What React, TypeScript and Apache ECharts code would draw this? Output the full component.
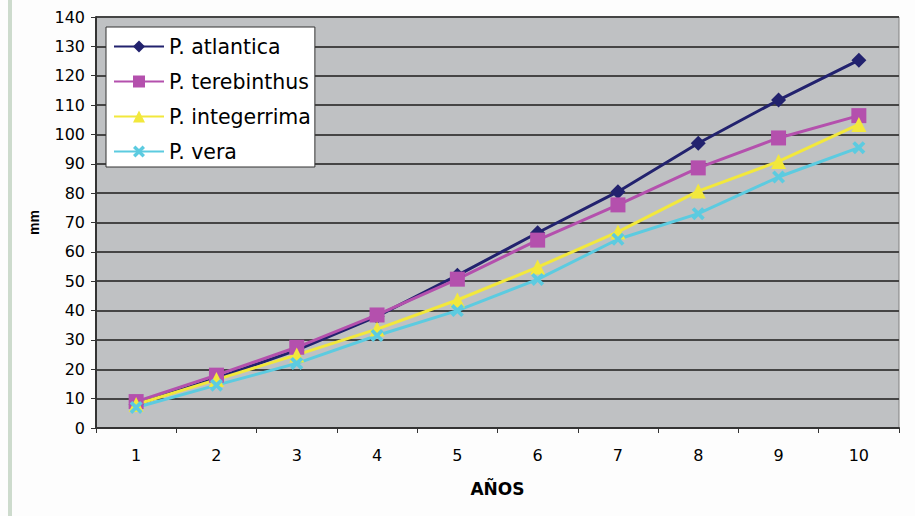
import React, { useEffect, useRef } from "react";
import * as echarts from "echarts";

const categories = ["1", "2", "3", "4", "5", "6", "7", "8", "9", "10"];
const atlantica = [8, 17, 26.5, 38, 52, 66.5, 80.5, 97, 111.7, 125.3];
const terebinthus = [9, 18, 27.5, 38.5, 50.7, 64, 76, 88.6, 98.8, 106.4];
const integerrima = [8, 16.5, 24.9, 33.7, 43.6, 54.8, 66.8, 80.7, 90.8, 103.4];
const vera = [7, 14.6, 22, 31.5, 40, 50.6, 64.3, 73, 85.5, 95.5];

const xPath = "path://M0,2L2,0L5,3L8,0L10,2L7,5L10,8L8,10L5,7L2,10L0,8L3,5Z";
const FONT = "DejaVu Sans, Liberation Sans, Arial, sans-serif";

export default function App() {
  const ref = useRef<HTMLDivElement>(null);
  useEffect(() => {
    const chart = echarts.init(ref.current!, null, { renderer: "svg" });
    const mk = (name: string, data: number[], color: string, symbol: string, size: number) => ({
      name,
      type: "line",
      data,
      symbol,
      symbolSize: size,
      lineStyle: { color, width: 3 },
      itemStyle: { color },
    });
    chart.setOption({
      animation: false,
      backgroundColor: "#fdfdfd",
      textStyle: { fontFamily: FONT },
      graphic: [
        { type: "rect", shape: { x: 8, y: 0, width: 4, height: 516 }, style: { fill: "#cddbcd" } },
      ],
      grid: {
        left: 96,
        top: 17,
        right: 16,
        bottom: 88,
        show: true,
        backgroundColor: "#bfc1c3",
        borderColor: "#808080",
        borderWidth: 1,
      },
      legend: {
        orient: "vertical",
        left: 106,
        top: 27,
        backgroundColor: "#ffffff",
        borderColor: "#333333",
        borderWidth: 1,
        borderRadius: 0,
        padding: [9, 4, 5, 7],
        itemWidth: 50,
        itemHeight: 15,
        itemGap: 14,
        textStyle: { fontSize: 20.5, color: "#000", fontFamily: FONT },
        data: ["P. atlantica", "P. terebinthus", "P. integerrima", "P. vera"],
      },
      xAxis: {
        type: "category",
        data: categories,
        boundaryGap: true,
        name: "AÑOS",
        nameLocation: "middle",
        nameGap: 52,
        nameTextStyle: { fontSize: 17, fontWeight: "bold", color: "#000", fontFamily: FONT },
        axisLine: { lineStyle: { color: "#333", width: 2 } },
        axisTick: { show: true, length: 5, lineStyle: { color: "#333" } },
        axisLabel: { fontSize: 16, color: "#000", margin: 19, fontFamily: FONT },
      },
      yAxis: {
        type: "value",
        min: 0,
        max: 140,
        interval: 10,
        name: "mm",
        nameLocation: "middle",
        nameGap: 55,
        nameRotate: 90,
        nameTextStyle: { fontSize: 14, fontWeight: "bold", color: "#000", fontFamily: "Liberation Sans, Arial, sans-serif" },
        axisLine: { show: true, lineStyle: { color: "#333", width: 2 } },
        axisTick: { show: true, length: 5, lineStyle: { color: "#333" } },
        axisLabel: { fontSize: 16, color: "#000", margin: 11, fontFamily: FONT },
        splitLine: { show: true, lineStyle: { color: "#454545", width: 1.8 } },
      },
      series: [
        mk("P. atlantica", atlantica, "#22226e", "diamond", 15),
        mk("P. terebinthus", terebinthus, "#b450ad", "rect", 15),
        mk("P. integerrima", integerrima, "#f2e83c", "triangle", 15),
        mk("P. vera", vera, "#5ccbe0", xPath, 13),
      ],
    });
    return () => chart.dispose();
  }, []);
  return (
    <div
      ref={ref}
      style={{ position: "fixed", left: 0, top: 0, width: 915, height: 516 }}
    />
  );
}
